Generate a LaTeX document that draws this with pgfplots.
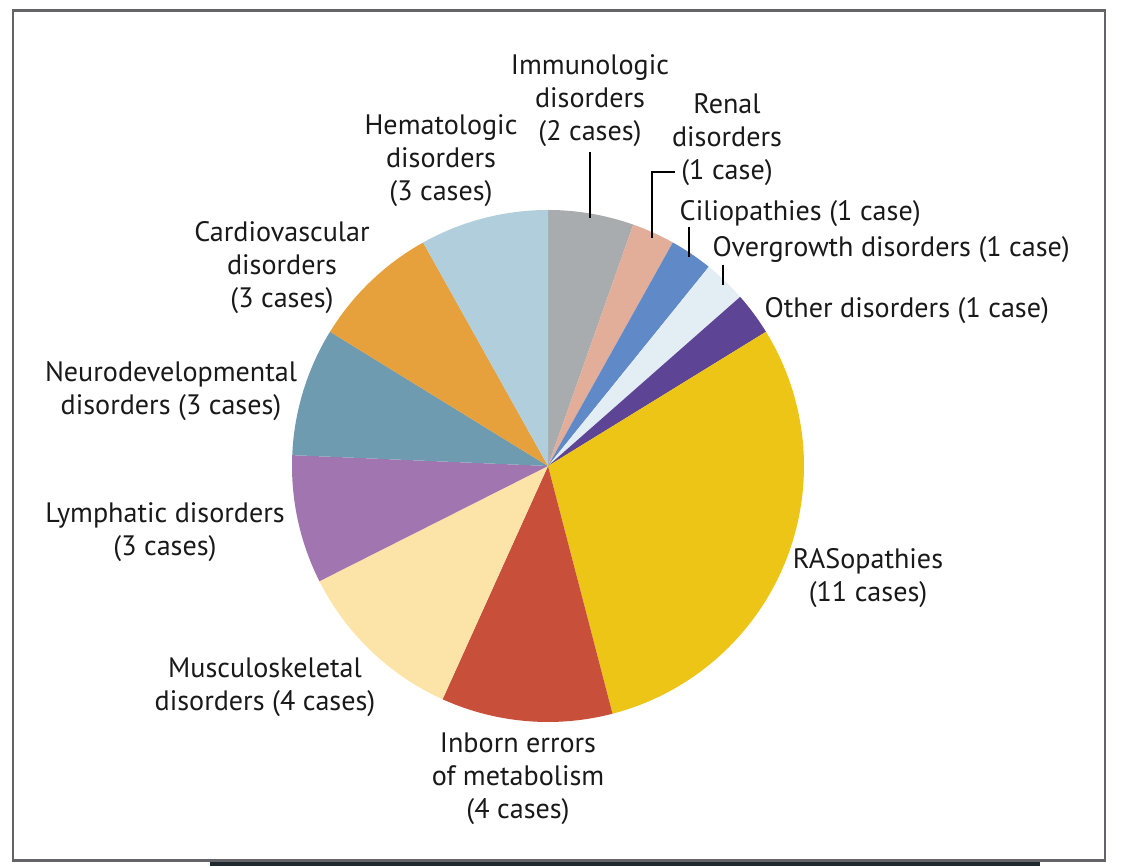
\documentclass[border=0pt]{standalone}
\usepackage{pgfplots}
\pgfplotsset{compat=1.18}
\usepackage{fontspec}
\setmainfont{PT Sans}
\definecolor{immun}{HTML}{A9ACAF}
\definecolor{renal}{HTML}{E2AD99}
\definecolor{cilia}{HTML}{5F89C7}
\definecolor{over}{HTML}{E3EDF4}
\definecolor{other}{HTML}{5E4494}
\definecolor{ras}{HTML}{EDC516}
\definecolor{inborn}{HTML}{C8503A}
\definecolor{musc}{HTML}{FCE3A8}
\definecolor{lymph}{HTML}{A075B0}
\definecolor{neuro}{HTML}{6E9BAF}
\definecolor{cardio}{HTML}{E6A03C}
\definecolor{hemat}{HTML}{B1CEDD}
\definecolor{frame}{HTML}{646468}
\definecolor{strip}{HTML}{1F2A30}
\begin{document}
\begin{tikzpicture}
\begin{axis}[hide axis, scale only axis, width=11.25cm, height=8.66cm,
  xmin=0, xmax=1125, ymin=0, ymax=866, clip=false]
\path (axis cs:0,0) rectangle (axis cs:1125,866);
% frame
\draw[frame, line width=0.85pt] (axis cs:13,855.5) rectangle (axis cs:1105,5);
\fill[strip] (axis cs:210,0) rectangle (axis cs:1040,3.5);
% pie: cases per category, clockwise from 12 o'clock; total 37
\pgfplotsextra{
  \gdef\sa{90}
  \foreach \v/\c in {2/immun,1/renal,1/cilia,1/over,1/other,11/ras,4/inborn,4/musc,3/lymph,3/neuro,3/cardio,3/hemat}{
    \pgfmathsetmacro\ea{\sa-\v*360/37}
    \fill[\c] (axis cs:548,400) -- ++(\sa:2.56cm) arc[start angle=\sa, end angle=\ea, radius=2.56cm] -- cycle;
    \global\let\sa\ea
  }
}
% leader lines
\draw[line width=0.6pt] (axis cs:590,714) -- (axis cs:590,648);
\draw[line width=0.6pt] (axis cs:675,694) -- (axis cs:652,694) -- (axis cs:652,628);
\draw[line width=0.6pt] (axis cs:689,639) -- (axis cs:689,609);
\draw[line width=0.6pt] (axis cs:723,601) -- (axis cs:723,581);
% labels
\begin{scope}[every node/.style={font=\fontsize{8}{9.4}\selectfont, align=center, text=black!90}]
\node at (axis cs:590,765) {Immunologic\\disorders\\(2 cases)};
\node at (axis cs:727,726) {Renal\\disorders\\(1 case)};
\node[anchor=west, inner sep=0pt] at (axis cs:679,652) {Ciliopathies (1 case)};
\node[anchor=west, inner sep=0pt] at (axis cs:712,616) {Overgrowth disorders (1 case)};
\node[anchor=west, inner sep=0pt] at (axis cs:764,555) {Other disorders (1 case)};
\node at (axis cs:868,288) {RASopathies\\(11 cases)};
\node at (axis cs:518,87) {Inborn errors\\of metabolism\\(4 cases)};
\node at (axis cs:265,179) {Musculoskeletal\\disorders (4 cases)};
\node at (axis cs:165,334) {Lymphatic disorders\\(3 cases)};
\node at (axis cs:171,475) {Neurodevelopmental\\disorders (3 cases)};
\node at (axis cs:282,598) {Cardiovascular\\disorders\\(3 cases)};
\node at (axis cs:441,705) {Hematologic\\disorders\\(3 cases)};
\end{scope}
\end{axis}
\end{tikzpicture}
\end{document}
